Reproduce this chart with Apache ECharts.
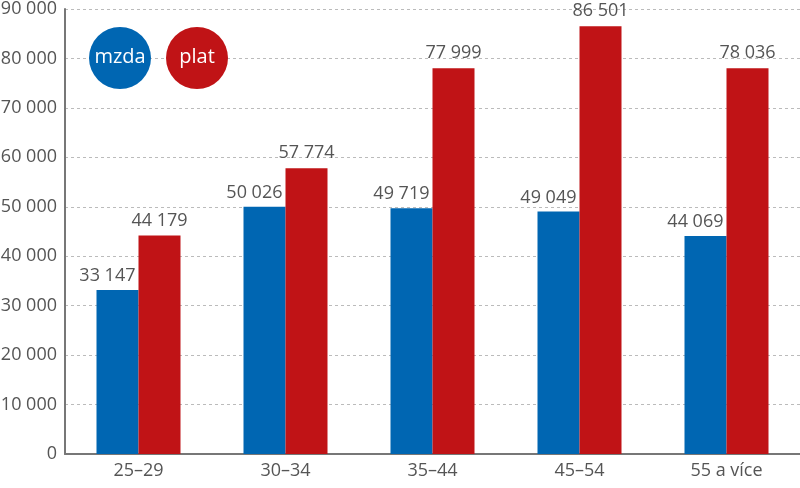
<!DOCTYPE html>
<html>
<head>
<meta charset="utf-8">
<script src="https://cdn.jsdelivr.net/npm/echarts@6/dist/echarts.min.js"></script>
<style>
  html, body { margin: 0; padding: 0; background: #fff; }
  #chart { width: 800px; height: 488px; }
</style>
</head>
<body>
<div id="chart"></div>
<script>
const categories = ['25–29', '30–34', '35–44', '45–54', '55 a více'];
const mzda = [33147, 50026, 49719, 49049, 44069];
const plat = [44179, 57774, 77999, 86501, 78036];
const seriesNames = ['mzda', 'plat'];

// barvy
const colors = ['#0066b2', '#c01316'];
const font = 'Open Sans';

// mezera jako oddělovač tisíců
const fmt = v => String(v).replace(/\B(?=(\d{3})+(?!\d))/g, ' ');

const chart = echarts.init(document.getElementById('chart'));
const labelBase = {
  show: true,
  color: '#555',
  fontSize: 18,
  fontFamily: font,
  formatter: p => fmt(p.value),
};

chart.setOption({
  animation: false,
  grid: { left: 65, right: 0, top: 9, bottom: 34, outerBoundsMode: 'none' },
  xAxis: {
    type: 'category',
    data: categories,
    axisLine: { lineStyle: { color: '#777', width: 2 } },
    axisTick: { show: false },
    axisLabel: { color: '#555', fontSize: 18, fontFamily: font, margin: 8 },
  },
  yAxis: {
    type: 'value',
    min: 0,
    max: 90000,
    interval: 10000,
    axisLine: { show: true, lineStyle: { color: '#777', width: 2 } },
    axisTick: { show: false },
    axisLabel: { color: '#555', fontSize: 18, fontFamily: font, margin: 8, formatter: fmt },
    splitLine: { lineStyle: { type: [3, 3], color: '#bbb' } },
  },
  series: [
    {
      name: seriesNames[0], type: 'bar', data: mzda, barWidth: 42, barGap: '0%',
      itemStyle: { color: colors[0] },
      // popisek zarovnaný vpravo k okraji sloupce
      label: { ...labelBase, position: ['100%', 0], align: 'right', verticalAlign: 'bottom', offset: [-3, -5] },
    },
    {
      name: seriesNames[1], type: 'bar', data: plat, barWidth: 42, barGap: '0%',
      itemStyle: { color: colors[1] },
      label: { ...labelBase, position: 'top', distance: 6 },
    },
  ],
  graphic: seriesNames.map((name, i) => ({
    type: 'group',
    left: 89 + i * 77,
    top: 27,
    children: [
      { type: 'circle', z: 10, shape: { cx: 31, cy: 31, r: 31 }, style: { fill: colors[i] } },
      {
        type: 'text', z: 11,
        x: 31, y: 30,
        style: { text: name, fill: '#fff', fontSize: 20, fontFamily: font, align: 'center', verticalAlign: 'middle' },
      },
    ],
  })),
});
</script>
</body>
</html>
